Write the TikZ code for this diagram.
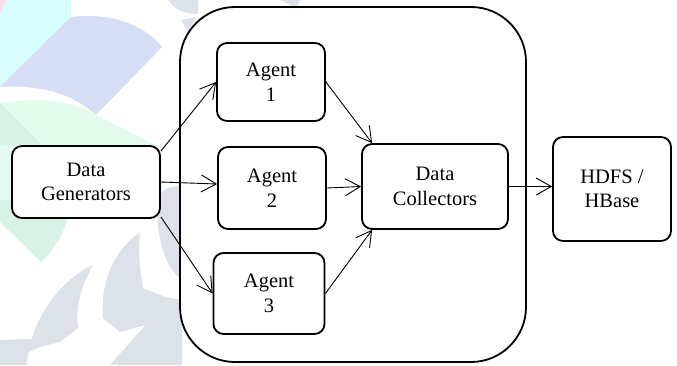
\documentclass[tikz,border=0pt]{standalone}
\usepackage{fontspec}
\setmainfont{Liberation Serif}
\usetikzlibrary{arrows.meta}

\definecolor{wmgray}{RGB}{221,226,232}
\definecolor{wmcyan}{RGB}{217,252,252}
\definecolor{wmlav}{RGB}{214,222,245}
\definecolor{wmgreen}{RGB}{227,252,238}
\definecolor{wmgreendk}{RGB}{216,242,230}
\definecolor{wmpink}{RGB}{255,222,226}

\tikzset{
  blockbox/.style={draw, line width=1.8pt, rounded corners=10pt, fill=white,
    align=center, inner sep=0pt,
    font=\rmfamily\fontsize{20.5}{24.5}\selectfont},
  flow/.style={line width=0.9pt,
    -{Straight Barb[length=15pt,width=17pt,line width=0.9pt]}},
}

\begin{document}
\begin{tikzpicture}[x=1pt,y=-1pt]
\useasboundingbox (0,0) rectangle (677,365);

% faint background emblem
\fill[wmpink] (0,0) -- (6,0) -- (0,14) -- cycle;
\fill[wmcyan] (6,0) -- (71,0) -- (71,18) -- (0,87) -- (0,14) -- cycle;
\fill[wmlav] (0,87) -- (71,17) .. controls (110,12) and (145,25) .. (162,47)
  -- (96,115) .. controls (75,95) and (40,84) .. (0,87) -- cycle;
\fill[wmgreen] (0,103) .. controls (40,97) and (70,100) .. (96,115)
  -- (162,148) -- (162,200) -- (0,200) -- cycle;
\fill[wmgreendk] (0,103) -- (42,145) -- (0,145) -- cycle;
\fill[wmgreendk] (0,200) -- (68,200) -- (68,218) .. controls (62,238) and (52,252) .. (41,262) -- (0,222) -- cycle;
% leaves
\fill[wmgray] (27,365) .. controls (30,320) and (60,280) .. (93,265)
  .. controls (82,285) and (75,305) .. (78,328) -- (60,342) -- (0,356) -- (0,365) -- cycle;
\fill[wmgray] (103,318) .. controls (100,280) and (115,250) .. (140,232)
  .. controls (138,255) and (140,270) .. (143,288) -- (165,297) -- (182,300)
  -- (182,315) -- (120,332) -- cycle;
\fill[wmgray] (157,205) .. controls (157,192) and (166,186) .. (182,186)
  -- (182,280) .. controls (165,268) and (157,240) .. (157,205) -- cycle;
\fill[wmgray] (150,320) -- (182,310) -- (182,365) -- (110,365) -- cycle;
\fill[wmgray] (0,340) -- (60,338) -- (20,356) -- (0,360) -- cycle;
\fill[wmgray] (168,0) .. controls (175,10) and (185,14) .. (198,14) -- (198,0) -- cycle;
\fill[wmgray] (181,20) -- (196,17) -- (188,32) -- cycle;
\fill[wmgray] (280,0) -- (300,0) -- (297,8) -- cycle;

% container for the agents and the collector
\node[draw, line width=1.8pt, rounded corners=55pt, fill=white,
      minimum width=346pt, minimum height=355pt, inner sep=0pt]
  (flume) at (353,184.5) {};

% blocks
\node[blockbox, minimum width=148pt, minimum height=72pt] (gen)  at (86,182)    {Data\\Generators};
\node[blockbox, minimum width=108pt, minimum height=78pt] (ag1)  at (271,82)    {Agent\\1};
\node[blockbox, minimum width=108pt, minimum height=82pt] (ag2)  at (272,188)   {Agent\\2};
\node[blockbox, minimum width=111pt, minimum height=81pt] (ag3)  at (269,293.5) {Agent\\3};
\node[blockbox, minimum width=146pt, minimum height=85pt] (coll) at (435,186.5) {Data\\Collectors};
\node[blockbox, minimum width=118pt, minimum height=104pt] (hdfs) at (612,189)  {HDFS /\\HBase};

% connectors
\draw[flow] ([yshift=-6pt]gen.north east) -- (ag1.west);
\draw[flow] (gen.east) -- ([yshift=4pt]ag2.west);
\draw[flow] ([yshift=2pt]gen.south east) -- (ag3.west);
\draw[flow] (ag1.east) -- ([xshift=11pt]coll.north west);
\draw[flow] (ag2.east) -- (coll.west);
\draw[flow] (ag3.east) -- ([xshift=11pt]coll.south west);
\draw[flow] (coll.east) -- (hdfs.west |- coll.east);
\end{tikzpicture}
\end{document}
